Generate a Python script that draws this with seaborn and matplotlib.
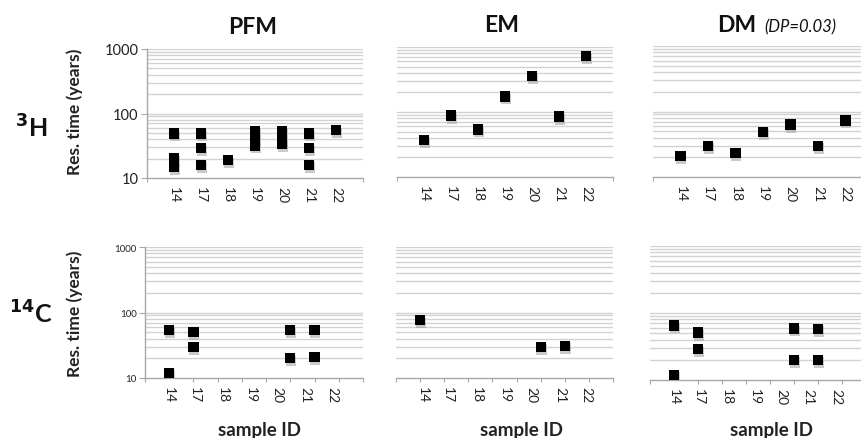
import matplotlib
matplotlib.use("Agg")
import matplotlib.pyplot as plt
import matplotlib.patheffects as pe
from matplotlib.ticker import FixedLocator
import seaborn as sns
import pandas as pd

sns.set_theme(style="white")
plt.rcParams['font.family'] = ['Lato', 'DejaVu Sans']

# ---------------- data ----------------
sample_labels = ["14", "17", "18", "19", "20", "21", "22"]
top_label_pos = [1, 2, 3, 4, 5, 6, 7]
bot_label_pos = [1.0, 2.05, 3.2, 4.35, 5.45, 6.6, 7.75]
bot_label_pos_em = [1.1, 2.15, 3.35, 4.5, 5.6, 6.8, 7.9]

h3_pfm_x = [1, 1, 1, 2, 2, 2, 3, 4, 4, 4, 5, 5, 5, 6, 6, 6, 7]
h3_pfm_y = [49, 20, 15, 49, 29, 16, 19, 53, 42, 32, 53, 38, 34, 49, 29, 16, 55]
h3_em_x = [1, 2, 3, 4, 5, 6, 7]
h3_em_y = [37, 88, 54, 174, 358, 85, 730]
h3_dm_x = [1, 2, 3, 4, 5, 6, 7]
h3_dm_y = [21, 30, 23, 49, 63, 30, 73]

c14_pfm_x = [1, 1, 2, 2, 6, 6, 7, 7]
c14_pfm_y = [54, 12, 50, 30, 54, 20, 54, 21]
c14_em_x = [1, 6, 7]
c14_em_y = [76, 30, 31]
c14_dm_x = [1, 1, 2, 2, 6, 6, 7, 7]
c14_dm_y = [65, 12, 51, 29, 59, 20, 58, 20]

y_ticks = [10, 100, 1000]

# ---------------- layout ----------------
W, H = 861, 439
fig = plt.figure(figsize=(W / 100, H / 100), dpi=100)


def px_axes(x0, x1, ytop, ybot):
    return fig.add_axes([x0 / W, 1 - ybot / H, (x1 - x0) / W, (ybot - ytop) / H])


panels = [
    # x0, x1, ytop, ybot, xs, ys, xmax, label_pos, show_y, ytick_fs
    (147, 363, 50, 179, h3_pfm_x, h3_pfm_y, 8, top_label_pos, True, 10.5),
    (397, 613, 48, 178, h3_em_x, h3_em_y, 8, top_label_pos, False, 10.5),
    (653, 873, 47, 178, h3_dm_x, h3_dm_y, 8, top_label_pos, False, 10.5),
    (145, 363, 248, 379, c14_pfm_x, c14_pfm_y, 9, bot_label_pos, True, 7),
    (396, 613, 248, 379, c14_em_x, c14_em_y, 9, bot_label_pos_em, False, 7),
    (650, 866, 247, 381, c14_dm_x, c14_dm_y, 9, bot_label_pos, False, 7),
]

grid_vals = [v * m for m in (10, 100) for v in range(2, 10)] + [100, 1000]
axis_col = "#a8a8a8"

for (x0, x1, yt, yb, xs, ys, xmax, lpos, show_y, yfs) in panels:
    ax = px_axes(x0, x1, yt, yb)
    df = pd.DataFrame({"x": xs, "y": ys})
    ax.set_yscale("log")
    for g in grid_vals:
        ax.axhline(g, color="#d2d2d2", lw=1.0, zorder=0)
    sns.scatterplot(data=df, x="x", y="y", marker="s", s=55, color="black",
                    edgecolor="black", linewidth=0, ax=ax, zorder=3, legend=False)
    coll = ax.collections[-1]
    coll.set_path_effects([pe.SimplePatchShadow(offset=(0.5, -2), shadow_rgbFace="#a0a0a0", alpha=0.55),
                           pe.Normal()])
    ax.set_xlim(0, xmax)
    ax.set_ylim(10, 1000)
    ax.set_xlabel("")
    ax.set_ylabel("")
    ax.xaxis.set_major_locator(FixedLocator(lpos))
    ax.set_xticklabels(sample_labels, rotation=270, fontsize=10, color="#222222")
    ax.xaxis.set_minor_locator(FixedLocator(list(range(0, xmax + 1))))
    ax.tick_params(axis="x", which="major", length=0, pad=6)
    ax.tick_params(axis="x", which="minor", length=3, color=axis_col, width=0.8, direction="out", bottom=True)
    for s in ("top", "right"):
        ax.spines[s].set_visible(False)
    ax.spines["bottom"].set_color(axis_col)
    ax.spines["bottom"].set_linewidth(1.0)
    ax.yaxis.set_minor_locator(FixedLocator([]))
    if show_y:
        ax.yaxis.set_major_locator(FixedLocator(y_ticks))
        ax.set_yticklabels([str(v) for v in y_ticks], fontsize=yfs, color="#222222")
        ax.spines["left"].set_color(axis_col)
        ax.spines["left"].set_linewidth(1.0)
        ax.tick_params(axis="y", which="major", length=4, color=axis_col, width=0.8, direction="out", left=True, pad=2)
    else:
        ax.spines["left"].set_visible(False)
        ax.yaxis.set_major_locator(FixedLocator([]))
    ax.patch.set_alpha(0)

# ---------------- texts ----------------
def ftxt(x, y, s, **kw):
    fig.text(x / W, 1 - y / H, s, **kw)

ftxt(253, 27, "PFM", fontsize=16.5, fontweight="bold", ha="center", va="center", color="#111111")
ftxt(502, 26, "EM", fontsize=16.5, fontweight="bold", ha="center", va="center", color="#111111")
ftxt(737, 26, "DM", fontsize=16.5, fontweight="bold", ha="center", va="center", color="#111111")
ftxt(800, 27, "(DP=0.03)", fontsize=12, fontstyle="italic", ha="center", va="center", color="#111111")

ftxt(31, 128, r"$\mathbf{^{3}}$H", fontsize=18, fontweight="bold", ha="center", va="center", color="#111111")
ftxt(31, 314, r"$\mathbf{^{14}}$C", fontsize=18, fontweight="bold", ha="center", va="center", color="#111111")

ftxt(75, 112, "Res. time (years)", fontsize=12.5, fontweight="bold", rotation=90, ha="center", va="center", color="#222222")
ftxt(75, 314, "Res. time (years)", fontsize=12.5, fontweight="bold", rotation=90, ha="center", va="center", color="#222222")

ftxt(259, 431, "sample ID", fontsize=13.5, fontweight="bold", ha="center", va="center", color="#222222")
ftxt(521, 431, "sample ID", fontsize=13.5, fontweight="bold", ha="center", va="center", color="#222222")
ftxt(772, 431, "sample ID", fontsize=13.5, fontweight="bold", ha="center", va="center", color="#222222")

fig.savefig("out.png", dpi=100, facecolor="white")
